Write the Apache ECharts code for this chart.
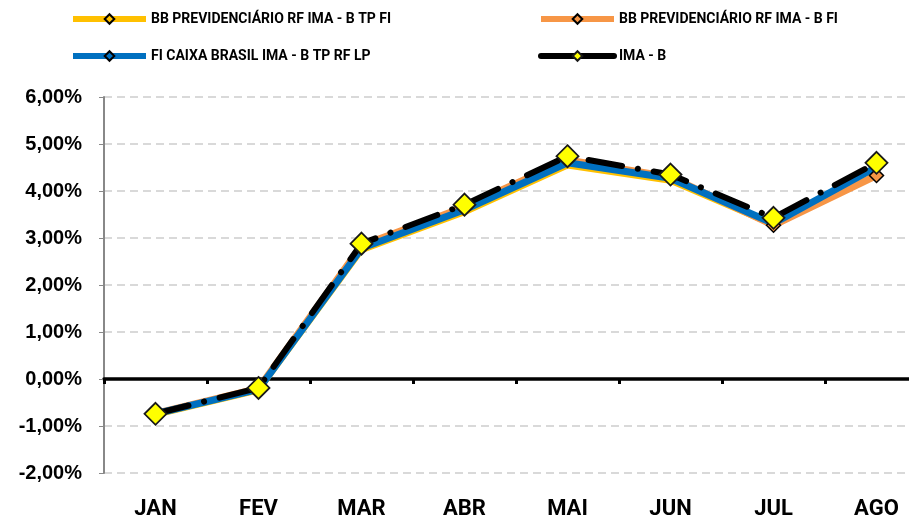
<!DOCTYPE html>
<html>
<head>
<meta charset="utf-8">
<script src="https://cdn.jsdelivr.net/npm/echarts@6/dist/echarts.min.js"></script>
<style>
  html, body { margin: 0; padding: 0; background: #fff; }
  #chart { width: 909px; height: 520px; }
</style>
</head>
<body>
<div id="chart"></div>
<script>
// meses
const meses = ['JAN', 'FEV', 'MAR', 'ABR', 'MAI', 'JUN', 'JUL', 'AGO'];
// rentabilidade acumulada (%)
const bbTpFi = [-0.76, -0.24, 2.74, 3.55, 4.54, 4.22, 3.28, 4.50];
const bbFi = [-0.73, -0.20, 2.84, 3.66, 4.66, 4.30, 3.27, 4.33];
const caixa = [-0.74, -0.22, 2.78, 3.60, 4.60, 4.27, 3.31, 4.51];
const imaB = [-0.74, -0.19, 2.88, 3.71, 4.74, 4.35, 3.43, 4.60];

const fonte = "Roboto, 'Liberation Sans', Arial, sans-serif";
const fonteY = "'Liberation Sans', Arial, sans-serif";

const myChart = echarts.init(document.getElementById('chart'));

const legendaTexto = { fontFamily: fonte, fontWeight: 'bold', fontSize: 14, color: '#000' };

const option = {
  animation: false,
  legend: [
    {
      left: 70, top: 12, orient: 'vertical', padding: 0,
      itemWidth: 73, itemHeight: 12, itemGap: 23,
      textStyle: legendaTexto,
      lineStyle: { width: 6 },
      data: ['BB PREVIDENCIÁRIO RF IMA - B TP FI', 'FI CAIXA BRASIL IMA - B TP RF LP']
    },
    {
      left: 538, top: 12, orient: 'vertical', padding: 0,
      itemWidth: 73, itemHeight: 12, itemGap: 23,
      textStyle: legendaTexto,
      lineStyle: { width: 6 },
      data: [
        'BB PREVIDENCIÁRIO RF IMA - B FI',
        { name: 'IMA - B', lineStyle: { type: 'solid', width: 6 } }
      ]
    }
  ],
  grid: { left: 104, top: 97, width: 824, height: 376, outerBoundsMode: 'none', containLabel: false },
  xAxis: [
    {
      // linha do zero com as marcas
      type: 'category',
      data: meses,
      axisLine: { onZero: true, lineStyle: { color: '#000', width: 3.5 } },
      axisTick: { show: true, length: 5, lineStyle: { color: '#000', width: 3 } },
      axisLabel: { show: false },
      splitLine: { show: false }
    },
    {
      // rótulos dos meses embaixo
      type: 'category',
      data: meses,
      position: 'bottom',
      axisLine: { show: false, onZero: false },
      axisTick: { show: false },
      axisLabel: {
        margin: 25, fontFamily: fonte, fontWeight: 'bold', fontSize: 22, color: '#000'
      },
      splitLine: { show: false }
    }
  ],
  yAxis: {
    type: 'value',
    min: -2, max: 6, interval: 1,
    axisLine: { show: true, lineStyle: { color: '#888', width: 2 } },
    axisTick: { show: true, inside: false, length: 5, lineStyle: { color: '#888', width: 1 } },
    axisLabel: {
      margin: 22, fontFamily: fonteY, fontWeight: 'bold', fontSize: 20, color: '#000',
      formatter: function (v) { return v.toFixed(2).replace('.', ',') + '%'; }
    },
    splitLine: { show: true, lineStyle: { color: '#d9d9d9', width: 2, type: [8, 5] } }
  },
  series: [
    {
      name: 'BB PREVIDENCIÁRIO RF IMA - B TP FI',
      type: 'line',
      data: bbTpFi,
      color: '#FFC000',
      lineStyle: { color: '#FFC000', width: 6 },
      symbol: 'diamond', symbolSize: 10, showSymbol: false,
      itemStyle: { color: '#FFC000', borderColor: '#000', borderWidth: 1.5 }
    },
    {
      name: 'BB PREVIDENCIÁRIO RF IMA - B FI',
      type: 'line',
      data: bbFi,
      color: '#F79646',
      lineStyle: { color: '#F79646', width: 7 },
      symbol: 'diamond', symbolSize: 14,
      itemStyle: { color: '#F79646', borderColor: '#000', borderWidth: 1.5 }
    },
    {
      name: 'FI CAIXA BRASIL IMA - B TP RF LP',
      type: 'line',
      data: caixa,
      color: '#0070C0',
      lineStyle: { color: '#0070C0', width: 7 },
      symbol: 'diamond', symbolSize: 10, showSymbol: false,
      itemStyle: { color: '#0070C0', borderColor: '#000', borderWidth: 1.5 }
    },
    {
      name: 'IMA - B',
      type: 'line',
      data: imaB,
      color: '#000',
      lineStyle: { color: '#000', width: 6, type: [34, 16, 0.1, 16], cap: 'round' },
      symbol: 'diamond', symbolSize: 22,
      itemStyle: { color: '#FFFF00', borderColor: '#1a1a1a', borderWidth: 1.8 }
    }
  ]
};

myChart.setOption(option);
</script>
</body>
</html>
